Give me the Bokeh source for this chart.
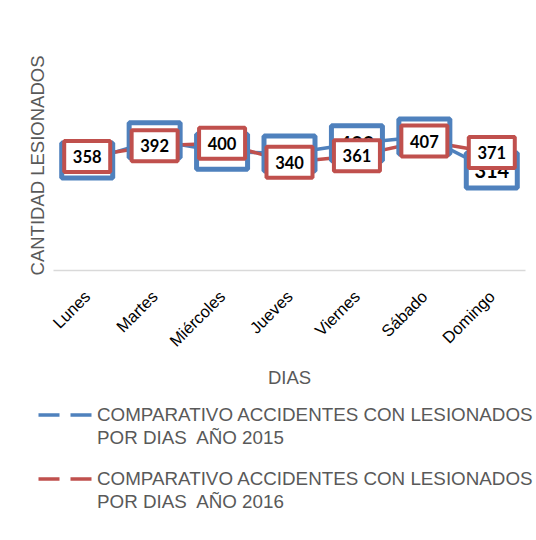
import math
from bokeh.plotting import figure
from bokeh.layouts import column
from bokeh.models import Range1d, FactorRange, Legend, LegendItem, FixedTicker
from bokeh.embed import file_html
from bokeh.resources import INLINE
from bokeh.core.properties import value

days = ["Lunes", "Martes", "Miércoles", "Jueves", "Viernes", "Sábado", "Domingo"]
acc_2015 = [346, 409, 373, 368, 400, 421, 314]
acc_2016 = [358, 392, 400, 340, 361, 407, 371]
legend_2015 = ["COMPARATIVO ACCIDENTES CON LESIONADOS", "POR DIAS  AÑO 2015"]
legend_2016 = ["COMPARATIVO ACCIDENTES CON LESIONADOS", "POR DIAS  AÑO 2016"]
x_title = "DIAS"
y_title = "CANTIDAD LESIONADOS"

BLUE = "#4f81bd"
RED = "#c0504d"

p = figure(width=536, height=400, x_range=FactorRange(*days), y_range=Range1d(0, 660),
           output_backend="svg", toolbar_location=None,
           min_border_left=53, min_border_right=11, min_border_top=60, min_border_bottom=130)
p.frame_align = False
p.outline_line_color = None
p.xgrid.visible = False
p.ygrid.visible = False

xa = p.xaxis[0]
xa.axis_line_color = "#d9d9d9"
xa.axis_line_width = 1.5
xa.major_tick_line_color = None
xa.minor_tick_line_color = None
xa.major_label_orientation = math.pi / 4
xa.major_label_text_font = "Liberation Sans"
xa.major_label_text_font_size = "16.5px"
xa.major_label_text_color = "#000000"
xa.major_label_standoff = 17
xa.axis_label = x_title
xa.axis_label_text_font = "Liberation Sans"
xa.axis_label_text_font_size = "18.5px"
xa.axis_label_text_font_style = "normal"
xa.axis_label_text_color = "#595959"
xa.axis_label_standoff = 8

ya = p.yaxis[0]
ya.ticker = FixedTicker(ticks=[])
ya.axis_line_color = None
ya.major_tick_line_color = None
ya.minor_tick_line_color = None
ya.major_label_standoff = 0
ya.axis_label = y_title
ya.axis_label_text_font = "Liberation Sans"
ya.axis_label_text_font_size = "18.5px"
ya.axis_label_text_font_style = "normal"
ya.axis_label_text_color = "#595959"
ya.axis_label_standoff = 6

# series lines
p.line(days, acc_2015, line_color=BLUE, line_width=3.5, line_join="round")
p.line(days, acc_2016, line_color=RED, line_width=3.5, line_join="round")

# data labels 2015
p.rect(days, acc_2015, width=51, height=35, width_units="screen", height_units="screen",
       fill_color="white", line_color=BLUE, line_width=5)
p.text(days, acc_2015, text=[str(v) for v in acc_2015], text_align="center", text_baseline="middle",
       text_font=value("Lato"), text_font_style="bold", text_font_size=value("20px"), text_color="#000000")

# data labels 2016
p.rect(days, acc_2016, width=46, height=31, width_units="screen", height_units="screen",
       fill_color="white", line_color=RED, line_width=4)
p.text(days, acc_2016, text=[str(v) for v in acc_2016], text_align="center", text_baseline="middle",
       text_font=value("Lato"), text_font_style="bold", text_font_size=value("16.5px"), text_color="#000000")

# legend figure (frame covers whole canvas)
pl = figure(width=536, height=140, x_range=Range1d(0, 1), y_range=Range1d(0, 1),
            output_backend="svg", toolbar_location=None,
            x_axis_location=None, y_axis_location=None,
            min_border_left=0, min_border_right=0, min_border_top=0, min_border_bottom=0)
pl.frame_align = False
pl.outline_line_color = None
pl.grid.visible = False

# single-point lines: draw nothing themselves, only provide legend glyph styles
lg_blue = pl.line([0], [0], line_color=BLUE, line_width=3.5, line_dash="21 11")
lg_red = pl.line([0], [0], line_color=RED, line_width=3.5, line_dash="21 11")
blank = pl.line([0], [0], line_alpha=0)


def make_legend(lines, rend, loc):
    lg = Legend(items=[LegendItem(label=lines[0], renderers=[rend]),
                       LegendItem(label=lines[1], renderers=[blank])],
                location=loc)
    lg.padding = 0
    lg.margin = 0
    lg.spacing = 0
    lg.label_height = 23
    lg.glyph_height = 23
    lg.glyph_width = 54
    lg.label_standoff = 5
    lg.border_line_color = None
    lg.background_fill_alpha = 0
    lg.label_text_font = "Liberation Sans"
    lg.label_text_font_size = "18.8px"
    lg.label_text_color = "#595959"
    return lg


pl.add_layout(make_legend(legend_2015, lg_blue, (38, 91)))
pl.add_layout(make_legend(legend_2016, lg_red, (38, 27)))

layout = column(p, pl)
open("out.html", "w").write(file_html(layout, INLINE))
